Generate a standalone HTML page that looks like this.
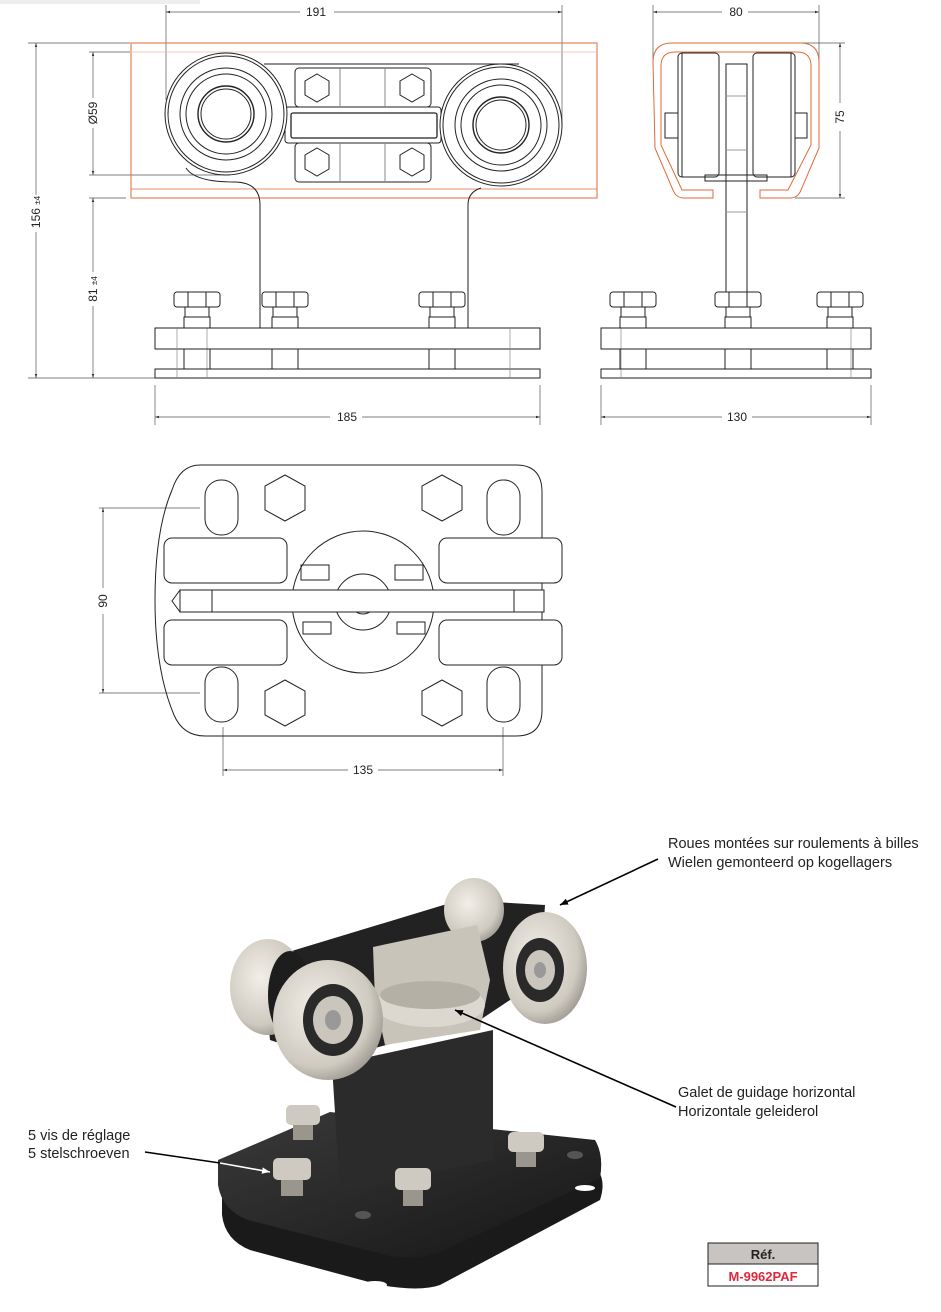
<!DOCTYPE html>
<html><head><meta charset="utf-8"><style>
html,body{margin:0;padding:0;background:#fff;}
svg{display:block;font-family:"Liberation Sans",sans-serif;}
</style></head><body>
<svg width="941" height="1312" viewBox="0 0 941 1312" xmlns="http://www.w3.org/2000/svg">
<defs>
<marker id="ar" viewBox="0 0 10 10" refX="10" refY="5" markerWidth="6" markerHeight="6" orient="auto-start-reverse"><path d="M0,2 L10,5 L0,8 z" fill="#333"/></marker>
<marker id="big" viewBox="0 0 10 10" refX="10" refY="5" markerWidth="5" markerHeight="5" orient="auto"><path d="M0,1 L10,5 L0,9 z" fill="#000"/></marker>
<marker id="bigw" viewBox="0 0 10 10" refX="10" refY="5" markerWidth="5" markerHeight="5" orient="auto"><path d="M0,1 L10,5 L0,9 z" fill="#fff"/></marker>
<radialGradient id="wg" cx="0.4" cy="0.4" r="0.7"><stop offset="0" stop-color="#f2efe8"/><stop offset="0.7" stop-color="#cfcac0"/><stop offset="1" stop-color="#8f8a82"/></radialGradient>
<linearGradient id="dk" x1="0" y1="0" x2="1" y2="1"><stop offset="0" stop-color="#3a3a3a"/><stop offset="1" stop-color="#161616"/></linearGradient>
</defs>
<rect x="0" y="0" width="200" height="4" fill="#eee"/>

<!-- ========== FRONT VIEW ========== -->
<g fill="none" stroke="#222" stroke-width="1">
<!-- dims -->
<g stroke="#555" stroke-width="0.7">
<line x1="166" y1="5" x2="166" y2="100"/><line x1="562" y1="5" x2="562" y2="126"/>
<line x1="166" y1="12" x2="300" y2="12" marker-start="url(#ar)"/><line x1="334" y1="12" x2="562" y2="12" marker-end="url(#ar)"/>
<line x1="28" y1="43" x2="130" y2="43"/><line x1="28" y1="378" x2="155" y2="378"/>
<line x1="36" y1="43" x2="36" y2="195" marker-start="url(#ar)"/><line x1="36" y1="232" x2="36" y2="378" marker-end="url(#ar)"/>
<line x1="89" y1="52" x2="130" y2="52"/><line x1="89" y1="175" x2="230" y2="175"/>
<line x1="93" y1="52" x2="93" y2="98" marker-start="url(#ar)"/><line x1="93" y1="128" x2="93" y2="175" marker-end="url(#ar)"/>
<line x1="89" y1="198" x2="126" y2="198"/>
<line x1="93" y1="198" x2="93" y2="272" marker-start="url(#ar)"/><line x1="93" y1="306" x2="93" y2="378" marker-end="url(#ar)"/>
<line x1="155" y1="385" x2="155" y2="425"/><line x1="540" y1="385" x2="540" y2="425"/>
<line x1="155" y1="417" x2="330" y2="417" marker-start="url(#ar)"/><line x1="362" y1="417" x2="540" y2="417" marker-end="url(#ar)"/>
</g>
<!-- orange rail -->
<rect x="131" y="43" width="466" height="155" stroke="#e06a3a" stroke-width="1"/>
<line x1="131" y1="52" x2="597" y2="52" stroke="#f0b8a0" stroke-width="0.8"/>
<line x1="131" y1="189" x2="597" y2="189" stroke="#e06a3a" stroke-width="0.8"/>
<!-- bracket -->
<line x1="264" y1="64" x2="519" y2="64"/>
<rect x="295" y="68" width="136" height="39" rx="4"/>
<rect x="295" y="143" width="136" height="39" rx="4"/>
<rect x="285" y="107" width="156" height="36" rx="3"/>
<rect x="291" y="113" width="146" height="25" rx="2" stroke-width="1.3"/>
<line x1="340" y1="68" x2="340" y2="107" stroke="#888"/><line x1="385" y1="68" x2="385" y2="107" stroke="#888"/>
<line x1="340" y1="143" x2="340" y2="182" stroke="#888"/><line x1="385" y1="143" x2="385" y2="182" stroke="#888"/>
<polygon points="317,74 329,81 329,95 317,102 305,95 305,81"/>
<polygon points="412,74 424,81 424,95 412,102 400,95 400,81"/>
<polygon points="317,148 329,155 329,169 317,176 305,169 305,155"/>
<polygon points="412,148 424,155 424,169 412,176 400,169 400,155"/>
<!-- wheels -->
<circle cx="226" cy="114" r="61" fill="#fff"/><circle cx="226" cy="114" r="58"/>
<circle cx="226" cy="114" r="46"/><circle cx="226" cy="114" r="40"/><circle cx="226" cy="114" r="28" stroke-width="1.4"/><circle cx="226" cy="114" r="25"/>
<circle cx="501" cy="125" r="61" fill="#fff"/><circle cx="501" cy="125" r="58"/>
<circle cx="501" cy="125" r="46"/><circle cx="501" cy="125" r="40"/><circle cx="501" cy="125" r="28" stroke-width="1.4"/><circle cx="501" cy="125" r="25"/>
<!-- stem -->
<path d="M186,168 Q195,182 234,182 Q260,182 260,205 L260,328"/>
<path d="M468,328 L468,205 Q468,192 481,188"/>
<!-- base -->
<rect x="155" y="328" width="385" height="21" fill="#fff"/>
<rect x="155" y="369" width="385" height="9" fill="#fff"/>
<g stroke="#888" stroke-width="0.7"><line x1="177" y1="328" x2="177" y2="378"/><line x1="207" y1="328" x2="207" y2="378"/><line x1="510" y1="328" x2="510" y2="378"/></g>
<!-- bolts -->
<g id="bolt">
<rect x="174" y="292" width="46" height="15" rx="3" fill="#fff"/><line x1="188" y1="292" x2="188" y2="307"/><line x1="206" y1="292" x2="206" y2="307"/>
<rect x="185" y="307" width="24" height="10"/><rect x="184" y="317" width="26" height="11"/><rect x="184" y="349" width="26" height="20"/>
</g>
<use href="#bolt" x="88"/>
<use href="#bolt" x="245"/>
</g>
<g font-size="12" fill="#222">
<text x="316" y="16" text-anchor="middle">191</text>
<text x="347" y="421" text-anchor="middle">185</text>
<text transform="translate(40,212) rotate(-90)" text-anchor="middle">156 <tspan font-size="8">±4</tspan></text>
<text transform="translate(97,113) rotate(-90)" text-anchor="middle">Ø59</text>
<text transform="translate(97,289) rotate(-90)" text-anchor="middle">81 <tspan font-size="8">±4</tspan></text>
</g>

<!-- ========== SIDE VIEW ========== -->
<g fill="none" stroke="#222" stroke-width="1">
<g stroke="#555" stroke-width="0.7">
<line x1="653" y1="5" x2="653" y2="60"/><line x1="819" y1="5" x2="819" y2="60"/>
<line x1="653" y1="12" x2="722" y2="12" marker-start="url(#ar)"/><line x1="748" y1="12" x2="819" y2="12" marker-end="url(#ar)"/>
<line x1="795" y1="43" x2="845" y2="43"/><line x1="795" y1="198" x2="845" y2="198"/>
<line x1="840" y1="43" x2="840" y2="103" marker-start="url(#ar)"/><line x1="840" y1="131" x2="840" y2="198" marker-end="url(#ar)"/>
<line x1="601" y1="385" x2="601" y2="425"/><line x1="871" y1="385" x2="871" y2="425"/>
<line x1="601" y1="417" x2="722" y2="417" marker-start="url(#ar)"/><line x1="752" y1="417" x2="871" y2="417" marker-end="url(#ar)"/>
</g>
<path d="M713,198 L684,198 Q676,198 673,190 L655,148 L653,62 Q653,43 672,43 L800,43 Q819,43 819,62 L819,148 L801,190 Q798,198 790,198 L760,198 L760,190 L788,190 L811,145 L811,66 Q811,52 797,52 L675,52 Q661,52 661,66 L661,145 L682,190 L713,190 Z" stroke="#e06a3a"/>
<rect x="678" y="53" width="41" height="124" rx="4" fill="#fff"/><line x1="682" y1="53" x2="682" y2="177"/>
<rect x="753" y="53" width="42" height="124" rx="4" fill="#fff"/><line x1="791" y1="53" x2="791" y2="177"/>
<rect x="665" y="113" width="13" height="25"/><rect x="795" y="113" width="12" height="25"/>
<rect x="726" y="64" width="21" height="228" fill="#fff"/>
<line x1="726" y1="96" x2="747" y2="96" stroke="#999"/><line x1="726" y1="150" x2="747" y2="150" stroke="#999"/><line x1="726" y1="212" x2="747" y2="212" stroke="#999"/>
<rect x="705" y="175" width="62" height="6"/>
<rect x="601" y="328" width="270" height="21" fill="#fff"/>
<rect x="601" y="369" width="270" height="9" fill="#fff"/>
<g stroke="#888" stroke-width="0.7"><line x1="621" y1="328" x2="621" y2="378"/><line x1="851" y1="328" x2="851" y2="378"/></g>
<use href="#bolt" x="436"/>
<use href="#bolt" x="541"/>
<use href="#bolt" x="643"/>
</g>
<g font-size="12" fill="#222">
<text x="736" y="16" text-anchor="middle">80</text>
<text x="737" y="421" text-anchor="middle">130</text>
<text transform="translate(844,117) rotate(-90)" text-anchor="middle">75</text>
</g>

<!-- ========== TOP VIEW ========== -->
<g fill="none" stroke="#222" stroke-width="1">
<g stroke="#555" stroke-width="0.7">
<line x1="99" y1="508" x2="200" y2="508"/><line x1="99" y1="693" x2="200" y2="693"/>
<line x1="103" y1="508" x2="103" y2="588" marker-start="url(#ar)"/><line x1="103" y1="614" x2="103" y2="693" marker-end="url(#ar)"/>
<line x1="223" y1="727" x2="223" y2="776"/><line x1="503" y1="727" x2="503" y2="776"/>
<line x1="223" y1="770" x2="348" y2="770" marker-start="url(#ar)"/><line x1="378" y1="770" x2="503" y2="770" marker-end="url(#ar)"/>
</g>
<path d="M200,465 L516,465 Q542,465 542,492 L542,710 Q542,736 516,736 L205,736 Q183,736 174,715 Q155,670 155,600 Q155,530 172,490 Q180,465 200,465 Z"/>
<rect x="205" y="480" width="33" height="55" rx="16"/><rect x="205" y="667" width="33" height="55" rx="16"/>
<rect x="487" y="480" width="33" height="55" rx="16"/><rect x="487" y="667" width="33" height="55" rx="16"/>
<polygon points="285,475 305,486 305,510 285,521 265,510 265,486"/>
<polygon points="442,475 462,486 462,510 442,521 422,510 422,486"/>
<polygon points="285,680 305,691 305,715 285,726 265,715 265,691"/>
<polygon points="442,680 462,691 462,715 442,726 422,715 422,691"/>
<circle cx="363" cy="602" r="71" fill="#fff"/>
<circle cx="363" cy="602" r="28"/><circle cx="363" cy="602" r="12"/><circle cx="363" cy="602" r="7"/>
<rect x="164" y="538" width="123" height="45" rx="8" fill="#fff"/><rect x="164" y="620" width="123" height="45" rx="8" fill="#fff"/>
<rect x="439" y="538" width="123" height="45" rx="8" fill="#fff"/><rect x="439" y="620" width="123" height="45" rx="8" fill="#fff"/>
<rect x="180" y="590" width="364" height="22" fill="#fff"/>
<line x1="212" y1="590" x2="212" y2="612"/><line x1="514" y1="590" x2="514" y2="612"/>
<rect x="301" y="565" width="28" height="15"/><rect x="395" y="565" width="28" height="15"/>
<rect x="303" y="622" width="28" height="12"/><rect x="397" y="622" width="28" height="12"/>
<path d="M180,590 L172,601 L180,612"/>
</g>
<g font-size="12" fill="#222">
<text x="363" y="774" text-anchor="middle">135</text>
<text transform="translate(107,601) rotate(-90)" text-anchor="middle">90</text>
</g>

<!-- ========== PHOTO ========== -->
<g>
<!-- lower plate -->
<path d="M222,1185 L335,1140 L598,1170 Q606,1182 600,1200 L440,1285 Q420,1292 380,1285 L250,1250 Q225,1240 222,1215 Z" fill="#1a1a1a"/>
<path d="M218,1160 L330,1112 L595,1140 Q604,1155 600,1178 L440,1252 Q420,1260 390,1256 L248,1220 Q222,1210 218,1185 Z" fill="url(#dk)"/>
<ellipse cx="375" cy="1285" rx="12" ry="4" fill="#fff"/><ellipse cx="585" cy="1188" rx="10" ry="3" fill="#fff"/>
<ellipse cx="363" cy="1215" rx="8" ry="4" fill="#555"/><ellipse cx="575" cy="1155" rx="8" ry="4" fill="#555"/>
<!-- stem -->
<path d="M332,1065 L493,1030 L493,1160 L340,1192 Z" fill="#2b2b2b"/>
<!-- top bar -->
<path d="M262,960 L460,900 L545,905 L540,980 L480,1020 L330,1060 L270,1040 Z" fill="#222"/>
<!-- wheels -->
<ellipse cx="474" cy="910" rx="30" ry="32" fill="url(#wg)"/>
<ellipse cx="268" cy="987" rx="38" ry="48" fill="url(#wg)"/>
<ellipse cx="290" cy="995" rx="22" ry="44" fill="#1d1d1d"/>
<!-- clamp -->
<path d="M373,947 L477,925 L490,980 L480,1030 L385,1045 L375,1000 Z" fill="#c9c4ba"/>
<ellipse cx="430" cy="1005" rx="55" ry="22" fill="#ddd8cf"/>
<ellipse cx="430" cy="995" rx="50" ry="14" fill="#b5b0a6"/>
<ellipse cx="545" cy="968" rx="42" ry="56" fill="url(#wg)"/>
<ellipse cx="540" cy="970" rx="24" ry="32" fill="#2a2a2a"/><ellipse cx="540" cy="970" rx="15" ry="20" fill="#cbc6bd"/><ellipse cx="540" cy="970" rx="6" ry="8" fill="#999"/>
<ellipse cx="328" cy="1020" rx="55" ry="60" fill="url(#wg)"/>
<ellipse cx="333" cy="1020" rx="30" ry="36" fill="#2a2a2a"/><ellipse cx="333" cy="1020" rx="20" ry="24" fill="#cbc6bd"/><ellipse cx="333" cy="1020" rx="8" ry="10" fill="#999"/>
<!-- bolts -->
<g fill="#cfcac1">
<rect x="286" y="1105" width="34" height="20" rx="5"/><rect x="293" y="1125" width="20" height="15" fill="#9a958d"/>
<rect x="273" y="1158" width="38" height="22" rx="5"/><rect x="281" y="1180" width="22" height="16" fill="#9a958d"/>
<rect x="395" y="1168" width="36" height="22" rx="5"/><rect x="403" y="1190" width="20" height="16" fill="#9a958d"/>
<rect x="508" y="1132" width="36" height="20" rx="5"/><rect x="516" y="1152" width="20" height="15" fill="#9a958d"/>
</g>
</g>
<!-- callouts -->
<g stroke="#000" stroke-width="1.6" fill="none">
<line x1="658" y1="859" x2="560" y2="905" marker-end="url(#big)"/>
<line x1="676" y1="1107" x2="455" y2="1010" marker-end="url(#big)"/>
<line x1="145" y1="1152" x2="220" y2="1163"/>
<line x1="220" y1="1163" x2="270" y2="1172" stroke="#fff" marker-end="url(#bigw)"/>
</g>
<g font-size="14.5" fill="#222">
<text x="668" y="848">Roues montées sur roulements à billes</text>
<text x="668" y="867">Wielen gemonteerd op kogellagers</text>
<text x="678" y="1097">Galet de guidage horizontal</text>
<text x="678" y="1116">Horizontale geleiderol</text>
<text x="28" y="1140">5 vis de réglage</text>
<text x="28" y="1158">5 stelschroeven</text>
</g>
<!-- ref box -->
<rect x="708" y="1243" width="110" height="21" fill="#c8c4c2" stroke="#222"/>
<rect x="708" y="1264" width="110" height="22" fill="#fff" stroke="#222"/>
<text x="763" y="1259" text-anchor="middle" font-size="13" font-weight="bold" fill="#222">Réf.</text>
<text x="763" y="1281" text-anchor="middle" font-size="13" font-weight="bold" fill="#e0283c">M-9962PAF</text>
</svg>
</body></html>
